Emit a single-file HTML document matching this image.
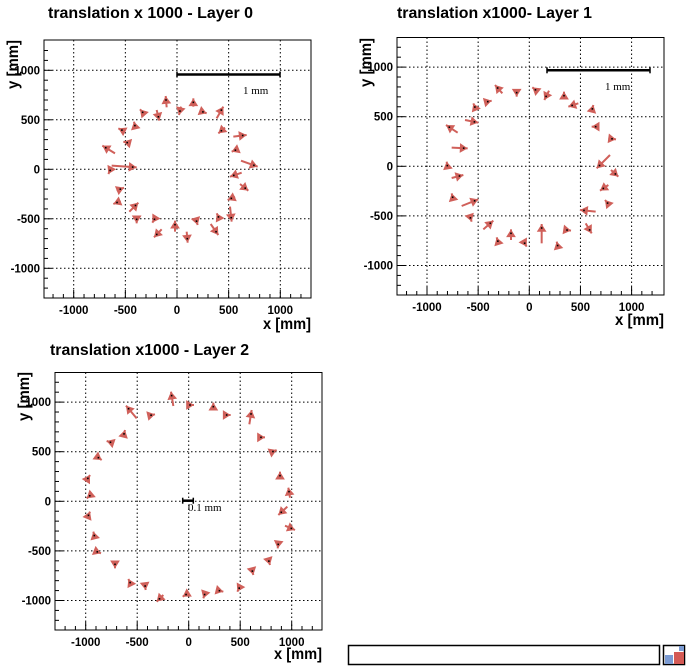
<!DOCTYPE html>
<html><head><meta charset="utf-8"><style>
html,body{margin:0;padding:0;background:#fff;width:690px;height:671px;overflow:hidden}
svg text{font-family:"Liberation Sans",sans-serif;font-weight:bold}
</style></head><body>
<svg id="s" width="690" height="671" xmlns="http://www.w3.org/2000/svg">
<text x="48" y="18" font-size="16" textLength="205" lengthAdjust="spacingAndGlyphs">translation x 1000 - Layer 0</text>
<text x="397" y="18" font-size="16" textLength="195" lengthAdjust="spacingAndGlyphs">translation x1000- Layer 1</text>
<text x="50" y="355" font-size="16" textLength="199" lengthAdjust="spacingAndGlyphs">translation x1000 - Layer 2</text>
<text x="263" y="329" font-size="16" textLength="48" lengthAdjust="spacingAndGlyphs">x [mm]</text>
<text x="615" y="325" font-size="16" textLength="49" lengthAdjust="spacingAndGlyphs">x [mm]</text>
<text x="274" y="659" font-size="16" textLength="48" lengthAdjust="spacingAndGlyphs">x [mm]</text>
<text transform="translate(18,89) rotate(-90)" font-size="16" textLength="49" lengthAdjust="spacingAndGlyphs">y [mm]</text>
<text transform="translate(371,87) rotate(-90)" font-size="16" textLength="49" lengthAdjust="spacingAndGlyphs">y [mm]</text>
<text transform="translate(29,421) rotate(-90)" font-size="16" textLength="49" lengthAdjust="spacingAndGlyphs">y [mm]</text>
<text x="243" y="94" font-size="11" style="font-family:'Liberation Serif',serif;font-weight:normal">1 mm</text>
<text x="605" y="90" font-size="11" style="font-family:'Liberation Serif',serif;font-weight:normal">1 mm</text>
<text x="188" y="511" font-size="11" style="font-family:'Liberation Serif',serif;font-weight:normal">0.1 mm</text>
<rect x="348.5" y="645.5" width="311" height="19" fill="none" stroke="#000" stroke-width="1.5"/>
<rect x="663.5" y="645.5" width="21" height="19" fill="#fff" stroke="#000" stroke-width="1.5"/>
<rect x="665" y="655" width="8" height="9" fill="#7b9bd3"/>
<rect x="674" y="652" width="10" height="12" fill="#d45a55"/>
<rect x="679" y="646" width="5" height="5" fill="#7b9bd3"/>
</svg>
<script>
var S=document.getElementById('s'),NS='http://www.w3.org/2000/svg';
function el(t,a){var e=document.createElementNS(NS,t);for(var k in a)e.setAttribute(k,a[k]);S.appendChild(e);return e;}
function panel(p){
 var X=function(v){return p.x0+v*p.sx},Y=function(v){return p.y0-v*p.sy};
 [-1000,-500,0,500,1000].forEach(function(v){
  el('line',{x1:X(v),x2:X(v),y1:p.T,y2:p.B,stroke:'#000','stroke-width':1,'stroke-dasharray':'1.5,2.5'});
  el('line',{x1:p.L,x2:p.R,y1:Y(v),y2:Y(v),stroke:'#000','stroke-width':1,'stroke-dasharray':'1.5,2.5'});
  var t=el('text',{x:X(v),y:p.B+16,'font-size':11.5,'text-anchor':'middle'});t.textContent=v;
  var t2=el('text',{x:p.L-4,y:Y(v)+4,'font-size':11.5,'text-anchor':'end'});t2.textContent=v;
 });
 for(var v=-1200;v<=1200;v+=100){
  var maj=(v%500==0),l=maj?8:4;
  var xx=X(v);if(xx>p.L&&xx<p.R)el('line',{x1:xx,x2:xx,y1:p.B,y2:p.B-l,stroke:'#000'});
  var yy=Y(v);if(yy>p.T&&yy<p.B)el('line',{x1:p.L,x2:p.L+l,y1:yy,y2:yy,stroke:'#000'});
 }
 el('rect',{x:p.L,y:p.T,width:p.R-p.L,height:p.B-p.T,fill:'none',stroke:'#000','stroke-width':1});
 el('line',{x1:p.b[0],x2:p.b[1],y1:p.b[2],y2:p.b[2],stroke:'#000','stroke-width':2.5});
 el('line',{x1:p.b[0],x2:p.b[0],y1:p.b[2]-3,y2:p.b[2]+3,stroke:'#000','stroke-width':1.5});
 el('line',{x1:p.b[1],x2:p.b[1],y1:p.b[2]-3,y2:p.b[2]+3,stroke:'#000','stroke-width':1.5});
 p.a.forEach(function(a){
  var hx=p.ox+a[0]/3,hy=p.oy+a[1]/3,tx=p.ox+a[2]/3,ty=p.oy+a[3]/3;
  var dx=hx-tx,dy=hy-ty,d=Math.hypot(dx,dy);
  if(d<0.5){dx=0;dy=-1;d=1}
  var ux=dx/d,uy=dy/d,s=6.5;
  el('line',{x1:tx,y1:ty,x2:hx,y2:hy,stroke:'#d0605a','stroke-width':2});
  var bx=hx-ux*s*1.2,by=hy-uy*s*1.2;
  el('polygon',{points:hx+','+hy+' '+(bx-uy*s*0.75)+','+(by+ux*s*0.75)+' '+(bx+uy*s*0.75)+','+(by-ux*s*0.75),fill:'#d0605a'});
  el('rect',{x:hx-ux*4-0.8,y:hy-uy*4-0.8,width:1.6,height:1.6,fill:'#000'});
 });
}
panel({L:44,R:311,T:40,B:298,x0:177,sx:0.1033,y0:169.3,sy:0.099,b:[177,280,74.5],ox:0,oy:0,a:[
[497,288,500,322],[580,295,580,320],[537,345,543,320],[478,362,470,330],[420,328,435,345],[402,365,405,378],[355,385,375,395],[370,425,382,428],[307,437,345,460],[410,502,335,497],[325,522,330,512],[372,563,350,572],[340,612,362,603],[415,608,388,635],[410,670,410,658],[457,668,462,660],[462,712,485,688],[525,662,525,695],[563,728,560,695],[593,675,590,665],[655,705,632,672],[650,640,655,650],[695,665,690,620],[683,600,705,590],[690,530,725,518],[745,572,720,552],[773,500,723,482],[695,455,715,447],[740,405,700,410],[655,400,675,383],[670,320,650,355],[620,340,607,335]]});
panel({L:397,R:664,T:37.5,B:295,x0:529.3,sx:0.1023,y0:166.3,sy:0.0992,b:[547,650,70.3],ox:345,oy:0,a:[
[450,255,472,280],[515,290,515,270],[562,262,567,266],[598,300,612,272],[657,275,657,287],[670,320,700,310],[745,315,740,335],[740,380,762,380],[813,418,790,415],[755,505,795,465],[820,530,798,510],[765,572,790,555],[780,600,790,612],[705,630,752,635],[740,700,722,670],[678,692,665,690],[635,725,638,737],[590,672,590,730],[545,740,538,728],[498,688,498,720],[455,712,460,728],[445,662,415,688],[400,598,350,618],[380,665,375,650],[320,580,325,600],[355,525,320,534],[305,485,307,497],[368,445,320,443],[303,375,338,398],[400,368,360,360],[385,310,390,322],[440,302,428,305]]});
panel({L:55,R:322,T:372.5,B:630,x0:188.7,sx:0.103,y0:501.3,sy:0.0992,b:[182.7,193.3,500.7],ox:0,oy:335,a:[
[513,170,520,213],[582,210,572,210],[640,203,640,212],[692,240,680,240],[755,225,748,268],[795,307,778,307],[830,345,818,350],[840,410,840,425],[865,458,870,488],[835,540,862,515],[885,585,855,572],[833,640,835,625],[810,690,805,673],[760,720,758,712],[712,770,720,755],[670,770,650,765],[610,790,615,775],[548,785,556,780],[470,800,490,780],[437,765,435,750],[385,732,390,742],[345,700,345,688],[303,655,298,653],[280,590,283,602],[270,530,265,542],[260,490,272,480],[270,420,265,428],[305,375,298,370],[320,318,332,322],[375,285,372,297],[465,238,456,240],[378,212,410,250]]});
</script>
</body></html>
